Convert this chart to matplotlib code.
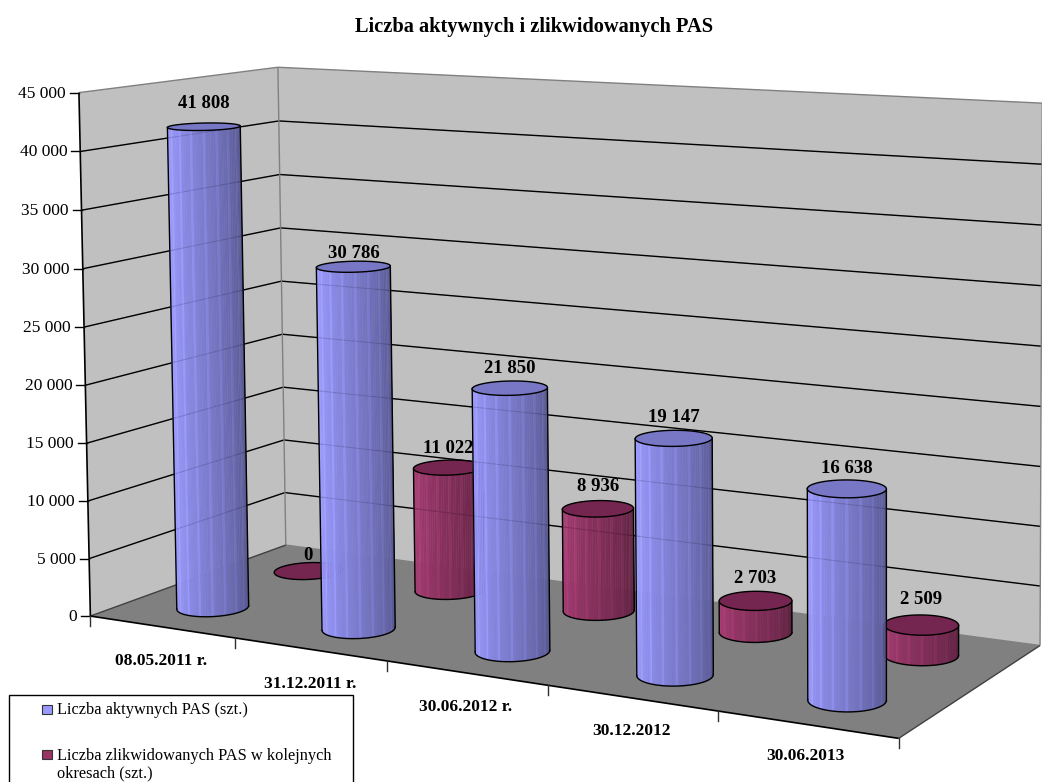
import numpy as np
import matplotlib
matplotlib.use("Agg")
import matplotlib.pyplot as plt
from matplotlib.collections import PolyCollection
from matplotlib.colors import to_rgb
from matplotlib.patches import Rectangle

plt.rcParams['font.family'] = ['Liberation Serif', 'DejaVu Sans']

#----------------------------DATA-----------------------------------#
categories = ["08.05.2011 r.", "31.12.2011 r.", "30.06.2012 r.", "30.12.2012", "30.06.2013"]
active = [41808, 30786, 21850, 19147, 16638]
closed = [0, 11022, 8936, 2703, 2509]
value_ticks = [0, 5000, 10000, 15000, 20000, 25000, 30000, 35000, 40000, 45000]
series_names = ["Liczba aktywnych PAS (szt.)",
                "Liczba zlikwidowanych PAS w kolejnych\nokresach (szt.)"]
title = "Liczba aktywnych i zlikwidowanych PAS"
vmax = 45000

#----------------------------CAMERA---------------------------------#
# box corners (cat, depth, height) -> pixels, fitted to one projective map
box = np.array([[0, 0, 0], [0, 1, 0], [1, 1, 0], [1, 0, 0], [0, 0, 1], [0, 1, 1], [1, 1, 1]], float)
pix = np.array([[91, 616], [285, 545], [1040, 646], [899, 738], [78, 93], [279, 67], [1042, 103]], float)

rows, rhs = [], []
for (X, Y, Z), (px, py) in zip(box, pix):
    rows.append([X, Y, Z, 1, 0, 0, 0, 0, -px * X, -px * Y, -px * Z])
    rows.append([0, 0, 0, 0, X, Y, Z, 1, -py * X, -py * Y, -py * Z])
    rhs += [px, py]
sol = np.linalg.lstsq(np.array(rows), np.array(rhs), rcond=None)[0]
P = np.append(sol, 1).reshape(3, 4)


def project(u, v, z):
    u, v, z = np.broadcast_arrays(u, v, z)
    pts = np.stack([u, v, z, np.ones_like(u, dtype=float)], axis=-1) @ P.T
    return pts[..., 0] / pts[..., 2], pts[..., 1] / pts[..., 2]


#----------------------------PLOT-----------------------------------#
fig = plt.figure(figsize=(10.42, 7.82), dpi=100)
ax = fig.add_axes([0, 0, 1, 1])
ax.set_xlim(0, 1042)
ax.set_ylim(782, 0)
ax.axis("off")


def quad(corners, color):
    x, y = project(*np.array(corners, float).T)
    ax.fill(x, y, color=color, lw=0, zorder=1)


quad([[0, 0, 0], [0, 1, 0], [0, 1, 1], [0, 0, 1]], "#C0C0C0")
quad([[0, 1, 0], [1, 1, 0], [1, 1, 1], [0, 1, 1]], "#C0C0C0")
quad([[0, 0, 0], [1, 0, 0], [1, 1, 0], [0, 1, 0]], "#808080")


def line3(a, b, color="black", lw=1.0, z=2, **kw):
    x, y = project(*np.array([a, b], float).T)
    ax.plot(x, y, color=color, lw=lw, zorder=z, solid_capstyle="butt", **kw)


# walls + gridlines
for t in value_ticks:
    z = t / vmax
    if 0 < t < vmax:
        line3([0, 0, z], [0, 1, z])
        line3([0, 1, z], [1, 1, z])
        # gridlines faintly show through the columns
        line3([0, 0, z], [0, 1, z], "black", 0.6, 40, alpha=0.13)
        line3([0, 1, z], [1, 1, z], "black", 0.6, 40, alpha=0.13)
    x, y = project(0, 0, z)
    ax.plot([x - 9, x], [y, y], color="black", lw=1.0, zorder=2)
    ax.text(x - 13, y + 1, f"{t:,}".replace(",", " "), ha="right", va="center", fontsize=12.5)

line3([0, 0, 1], [0, 1, 1], "#808080")
line3([0, 1, 1], [1, 1, 1], "#808080")
line3([0, 1, 0], [0, 1, 1], "#808080")
line3([1, 1, 0], [1, 1, 1], "#808080")
line3([0, 1, 0], [1, 1, 0], "#808080")
line3([0, 0, 0], [0, 1, 0], "#404040")
line3([0, 0, 0], [0, 0, 1], "black", 1.2)
line3([0, 0, 0], [1, 0, 0], "black", 1.2)
line3([1, 0, 0], [1, 1, 0], "#404040")

# category ticks and labels
n = len(categories)
for i in range(n + 1):
    x, y = project(i / n, 0, 0)
    ax.plot([x, x], [y, y + 10], color="#303030", lw=1.0, zorder=2)
label_shift = [(0, 34), (1, 35), (-1, 34), (0, 33), (-2, 31)]
for i, name in enumerate(categories):
    x, y = project((i + 0.5) / n, 0, 0)
    ax.text(x + label_shift[i][0], y + label_shift[i][1], name, ha="center", va="center",
            fontsize=12.5, fontweight="bold")

RAD_U, RAD_V = 0.04, 0.11
angles = np.linspace(0, 2 * np.pi, 61)[:-1]
order = [3]


def shade(color, f):
    # bright on the left, dark on the right
    c = np.array(to_rgb(color))
    return tuple(np.clip(c * (1.06 - 0.52 * f), 0, 1))


def cylinder(u, v, value, side, cap):
    z = value / vmax
    bx, by = project(u + RAD_U * np.cos(angles), v + RAD_V * np.sin(angles), 0.0)
    tx, ty = project(u + RAD_U * np.cos(angles), v + RAD_V * np.sin(angles), z)
    order[0] += 1
    zo = order[0]
    if value > 0:
        start = np.argmin(bx)
        idx = np.roll(np.arange(len(angles)), -start)
        end = np.where(idx == np.argmax(bx))[0][0]
        arc1 = idx[:end + 1]
        arc2 = np.append(idx[end:], idx[0])
        arc = arc1 if by[arc1].mean() > by[arc2].mean() else arc2
        if bx[arc[0]] > bx[arc[-1]]:
            arc = arc[::-1]
        # finer strips along the front of the cylinder
        fine = np.linspace(0, len(arc) - 1, 45)
        fbx = np.interp(fine, np.arange(len(arc)), bx[arc])
        fby = np.interp(fine, np.arange(len(arc)), by[arc])
        ftx = np.interp(fine, np.arange(len(arc)), tx[arc])
        fty = np.interp(fine, np.arange(len(arc)), ty[arc])
        polys, colors = [], []
        for k in range(len(fine) - 1):
            polys.append([(fbx[k], fby[k]), (fbx[k + 1], fby[k + 1]), (ftx[k + 1], fty[k + 1]), (ftx[k], fty[k])])
            col = shade(side, k / (len(fine) - 2))
            if k % 5 == 2:  # thin light streaks
                col = tuple(min(1, ch * 1.09) for ch in col)
            colors.append(col)
        ax.add_collection(PolyCollection(polys, facecolors=colors, edgecolors=colors, linewidths=0.3, zorder=zo))
        ax.plot(fbx, fby, color="black", lw=1.0, zorder=zo)
        ax.plot([fbx[0], ftx[0]], [fby[0], fty[0]], color="black", lw=1.0, zorder=zo)
        ax.plot([fbx[-1], ftx[-1]], [fby[-1], fty[-1]], color="black", lw=1.0, zorder=zo)
    ax.fill(tx, ty, facecolor=cap, edgecolor="black", lw=1.0, zorder=zo)


for i, val in enumerate(closed):
    cylinder((i + 0.5) / n, 0.75, val, "#A33A70", "#752650")
for i, val in enumerate(active):
    cylinder((i + 0.5) / n, 0.25, val, "#9999FF", "#7777C6")

# data labels, height above the column top differs a bit per label
lift_closed = [15, 19, 22, 22, 25]
lift_active = [23, 13, 20, 21, 20]
for vals, depth, lift in ((closed, 0.75, lift_closed), (active, 0.25, lift_active)):
    for i, val in enumerate(vals):
        x, y = project((i + 0.5) / n, depth, val / vmax)
        ax.text(x, y - lift[i], f"{val:,}".replace(",", " "), ha="center", va="center",
                fontsize=13.5, fontweight="bold", zorder=50)

ax.text(534, 27, title, ha="center", va="center", fontsize=14.7, fontweight="bold")

# legend, its frame is cut by the bottom of the picture
ax.add_patch(Rectangle((9, 695), 344, 100, facecolor="white", edgecolor="black", lw=1.0, zorder=60))
ax.add_patch(Rectangle((42, 705), 10, 9, facecolor="#9999FF", edgecolor="#333333", lw=0.8, zorder=61))
ax.add_patch(Rectangle((42, 750), 10, 9, facecolor="#993366", edgecolor="#333333", lw=0.8, zorder=61))
ax.text(57, 710, series_names[0], ha="left", va="center", fontsize=11.8, zorder=61)
ax.text(57, 764.5, series_names[1], ha="left", va="center", fontsize=11.8, zorder=61, linespacing=1.12)

plt.savefig("out.png", dpi=100)
